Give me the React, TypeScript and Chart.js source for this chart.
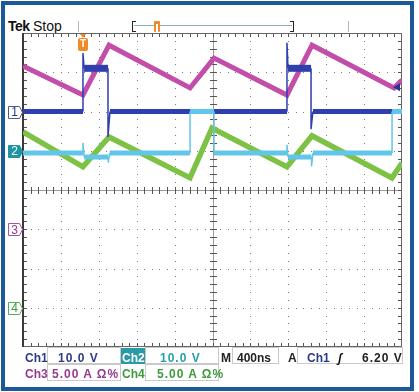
import React, { useEffect, useRef } from "react";
import { Chart, registerables } from "chart.js";

Chart.register(...registerables);

// ---- data (time in ns, vertical in graticule divisions) ----
const nsPerDiv = 400;
const timeSpanNs = 4000;

// Ch1 – dark blue switch-node trace
const ch1Time = [0, 633, 633, 645, 897, 897, 918, 2786, 2786, 2797, 3040, 3040, 3060, 4000];
const ch1Div = [2.0, 2.0, 3.49, 3.1, 3.1, 1.35, 2.0, 2.0, 3.75, 3.1, 3.1, 1.55, 2.0, 2.0];

// Ch2 – cyan trace
const ch2Time = [0, 633, 633, 645, 900, 900, 915, 1763, 1763, 2016, 2016, 2786, 2786, 2797, 3045, 3045, 3060, 3895, 3895, 4000];
const ch2Div = [0.94, 0.94, 1.2, 0.84, 0.84, 0.7, 0.94, 0.94, 2.0, 2.0, 0.94, 0.94, 1.15, 0.84, 0.84, 0.6, 0.94, 0.94, 2.0, 2.0];

// Ch3 – magenta current ramp
const ch3Time = [0, 633, 908, 1763, 2016, 2786, 3050, 3916, 4000];
const ch3Div = [3.16, 2.42, 3.69, 2.6, 3.36, 2.42, 3.69, 2.6, 2.8];

// Ch4 – green current ramp
const ch4Time = [0, 633, 908, 1763, 1995, 2786, 3050, 3894, 4000];
const ch4Div = [1.48, 0.59, 1.35, 0.31, 1.58, 0.59, 1.38, 0.31, 0.69];

const channelNames = ["1", "2", "3", "4"];
const channelOffsets = [2, 1, -1, -3];
const triggerTimeNs = 633;
const triggerLevelV = 6.2;
const ch1VoltsPerDiv = 10;

const readoutScale = ["10.0 V", "10.0 V", "5.00 A Ω%", "5.00 A Ω%"];
const timebase = "400ns";
const triggerText = "6.20 V";

// ---- styles ----
const traceColors = ["#2f3fae", "#62c6ea", "#c24ea9", "#7dc244"];
const textColors = ["#2b3a8a", "#239fad", "#933b8e", "#3c9a3c"];
const orange = "#ef8a2a";
const FONT = "'Liberation Sans', Arial, sans-serif";

const zip = (t: number[], v: number[]) => t.map((x, i) => ({ x, y: v[i] }));

const widthFn = (thin: number, normal: number, hiLevel: number | null, hiWidth: number) => (c: any) => {
  const a = c.p0.parsed, b = c.p1.parsed;
  if (Math.abs(a.x - b.x) < 30) return thin;
  if (hiLevel !== null && a.y > hiLevel && b.y > hiLevel) return hiWidth;
  return normal;
};

const graticulePlugin = {
  id: "graticule",
  beforeDatasetsDraw(chart: any) {
    const { ctx, chartArea: a, scales } = chart;
    const xs = scales.x, ys = scales.y;
    ctx.save();
    ctx.fillStyle = "#7c7c7c";
    for (let d = 1; d < 10; d++) {
      if (d === 5) continue;
      const px = Math.round(xs.getPixelForValue(d * nsPerDiv));
      for (let m = 1; m < 40; m++) {
        const py = Math.round(ys.getPixelForValue(-4 + m * 0.2));
        ctx.fillRect(px, py, 1, 1);
      }
    }
    for (let d = -3; d <= 3; d++) {
      if (d === 0) continue;
      const py = Math.round(ys.getPixelForValue(d));
      for (let m = 1; m < 50; m++) {
        const px = Math.round(xs.getPixelForValue(m * nsPerDiv / 5));
        ctx.fillRect(px, py, 1, 1);
      }
    }
    const cy = Math.round(ys.getPixelForValue(0));
    const cx = Math.round(xs.getPixelForValue(timeSpanNs / 2));
    ctx.fillStyle = "#9a9a9a";
    ctx.fillRect(a.left, cy, a.right - a.left, 1);
    ctx.fillRect(cx, a.top, 1, a.bottom - a.top);
    ctx.fillStyle = "#555";
    for (let m = 1; m < 50; m++) {
      const px = Math.round(xs.getPixelForValue(m * nsPerDiv / 5));
      ctx.fillRect(px, cy - 3, 1, 7);
      ctx.fillRect(px, a.top, 1, 4);
      ctx.fillRect(px, a.bottom - 4, 1, 4);
    }
    for (let m = 1; m < 40; m++) {
      const py = Math.round(ys.getPixelForValue(-4 + m * 0.2));
      ctx.fillRect(cx - 3, py, 7, 1);
      ctx.fillRect(a.left, py, 4, 1);
      ctx.fillRect(a.right - 4, py, 4, 1);
    }
    ctx.strokeStyle = "#666";
    ctx.lineWidth = 1;
    ctx.strokeRect(a.left + 0.5, a.top + 0.5, a.right - a.left - 1, a.bottom - a.top - 1);
    ctx.fillStyle = "#3a3a3a";
    ctx.fillRect(a.left - 1, a.top, 2, a.bottom - a.top);
    ctx.restore();
  },
};

const markerPlugin = {
  id: "markers",
  afterDraw(chart: any) {
    const { ctx, chartArea: a, scales } = chart;
    const xs = scales.x, ys = scales.y;
    ctx.save();
    const fills = ["#ffffff", "#1f95a3", "#ffffff", "#ffffff"];
    const strokes = ["#555a80", "#1f95a3", "#a5559f", "#58a858"];
    channelOffsets.forEach((off, i) => {
      const y = Math.round(ys.getPixelForValue(off)) + 0.5;
      ctx.beginPath();
      ctx.moveTo(8.5, y - 6);
      ctx.lineTo(19.5, y - 6);
      ctx.lineTo(a.left - 0.5, y);
      ctx.lineTo(19.5, y + 6);
      ctx.lineTo(8.5, y + 6);
      ctx.closePath();
      ctx.fillStyle = fills[i];
      ctx.fill();
      ctx.strokeStyle = strokes[i];
      ctx.lineWidth = 1;
      ctx.stroke();
    });
    const tx = Math.round(xs.getPixelForValue(triggerTimeNs));
    ctx.fillStyle = orange;
    ctx.beginPath();
    ctx.moveTo(tx - 3, a.top + 1);
    ctx.lineTo(tx + 3, a.top + 1);
    ctx.lineTo(tx, a.top + 5);
    ctx.closePath();
    ctx.fill();
    ctx.beginPath();
    ctx.roundRect(tx - 5, a.top + 5, 10, 13, 2);
    ctx.fill();
    const ty = ys.getPixelForValue(channelOffsets[0] + triggerLevelV / ch1VoltsPerDiv);
    ctx.fillStyle = "#2a3590";
    ctx.beginPath();
    ctx.moveTo(a.right - 9, ty);
    ctx.lineTo(a.right - 2, ty - 4);
    ctx.lineTo(a.right - 2, ty + 4);
    ctx.closePath();
    ctx.fill();
    ctx.restore();
  },
};

const abs = (s: React.CSSProperties): React.CSSProperties => ({ position: "absolute", whiteSpace: "nowrap", ...s });

export default function App() {
  const canvasRef = useRef<HTMLCanvasElement | null>(null);

  useEffect(() => {
    if (!canvasRef.current) return;
    const chart = new Chart(canvasRef.current, {
      type: "line",
      data: {
        datasets: [
          {
            label: "Ch2",
            data: zip(ch2Time, ch2Div),
            borderColor: traceColors[1],
            borderWidth: 5,
            pointRadius: 0,
            order: 0,
            segment: { borderWidth: widthFn(1.5, 5, null, 5) },
          },
          {
            label: "Ch1",
            data: zip(ch1Time, ch1Div),
            borderColor: traceColors[0],
            borderWidth: 5,
            pointRadius: 0,
            order: 1,
            segment: { borderWidth: widthFn(1.5, 5, 2.9, 7) },
          },
          {
            label: "Ch3",
            data: zip(ch3Time, ch3Div),
            borderColor: traceColors[2],
            borderWidth: 5,
            pointRadius: 0,
            order: 2,
          },
          {
            label: "Ch4",
            data: zip(ch4Time, ch4Div),
            borderColor: traceColors[3],
            borderWidth: 5.5,
            pointRadius: 0,
            order: 3,
          },
        ],
      },
      options: {
        responsive: false,
        animation: false,
        events: [],
        layout: { padding: { left: 23, right: 17, top: 33, bottom: 45 } },
        elements: { line: { tension: 0, borderJoinStyle: "miter" } },
        scales: {
          x: { type: "linear", min: 0, max: timeSpanNs, display: false },
          y: { type: "linear", min: -4, max: 4, display: false },
        },
        plugins: { legend: { display: false }, tooltip: { enabled: false } },
      },
      plugins: [graticulePlugin, markerPlugin],
    } as any);
    return () => chart.destroy();
  }, []);

  const tagTops = [105, 144, 223, 301];
  const tagText = ["#2b3a8a", "#ffffff", "#933b8e", "#3c9a3c"];
  const bold12: React.CSSProperties = { font: `bold 12px ${FONT}`, lineHeight: "12px" };
  const box = (left: number, top: number, width: number): React.CSSProperties =>
    abs({ left, top, width, height: 17, border: "1px solid #c9c9c9", boxSizing: "border-box" });

  return (
    <div style={{ position: "fixed", left: 0, top: 0, width: 419, height: 392, background: "#fff", overflow: "hidden" }}>
      <div style={abs({ left: 1, top: 1, width: 413, height: 390, border: "4px solid #1d5996", boxSizing: "border-box" })} />
      <div style={abs({ left: 8, top: 19, font: `bold 14px ${FONT}`, lineHeight: "14px", color: "#111", letterSpacing: "-0.5px" })}>Tek</div>
      <div style={abs({ left: 33, top: 19, font: `14px ${FONT}`, lineHeight: "14px", color: "#111" })}>Stop</div>
      <div style={abs({ left: 78, top: 21, width: 1, height: 11, background: "#b5b5b5" })} />
      <div style={abs({ left: 348, top: 21, width: 1, height: 11, background: "#b5b5b5" })} />
      <div style={abs({ left: 132, top: 21, width: 3, height: 9, borderLeft: "1px solid #222", borderTop: "1px solid #222", borderBottom: "1px solid #222" })} />
      <div style={abs({ left: 134, top: 25, width: 158, height: 1, background: "#86b4b6" })} />
      <div style={abs({ left: 290, top: 21, width: 3, height: 9, borderRight: "1px solid #222", borderTop: "1px solid #222", borderBottom: "1px solid #222" })} />
      <div style={abs({ left: 154, top: 21, width: 6, height: 11, background: orange, borderRadius: 1 })} />
      <div style={abs({ left: 156, top: 24, width: 2, height: 8, background: "#fff" })} />

      <canvas ref={canvasRef} width={419} height={392} style={{ position: "absolute", left: 0, top: 0, width: 419, height: 392 }} />

      {channelNames.map((n, i) => (
        <div key={n} style={abs({ left: 9, top: tagTops[i], width: 11, textAlign: "center", font: `12px ${FONT}`, lineHeight: "14px", color: tagText[i] })}>{n}</div>
      ))}
      <div style={abs({ left: 78, top: 38, width: 10, textAlign: "center", font: `bold 10px ${FONT}`, lineHeight: "12px", color: "#fff" })}>T</div>

      <div style={box(47, 347, 74)} />
      <div style={box(145, 347, 74)} />
      <div style={box(232, 347, 47)} />
      <div style={box(297, 347, 106)} />
      <div style={abs({ left: 121, top: 348, width: 24, height: 16, background: "#2a9aa6" })} />
      <div style={abs({ ...bold12, left: 25, top: 352, color: textColors[0] })}>Ch1</div>
      <div style={abs({ ...bold12, left: 58, top: 352, color: textColors[0], letterSpacing: "1px" })}>{readoutScale[0]}</div>
      <div style={abs({ ...bold12, left: 122, top: 352, color: "#fff" })}>Ch2</div>
      <div style={abs({ ...bold12, left: 160, top: 352, color: textColors[1], letterSpacing: "1px" })}>{readoutScale[1]}</div>
      <div style={abs({ ...bold12, left: 221, top: 352, color: "#222" })}>M</div>
      <div style={abs({ ...bold12, left: 237, top: 352, color: "#222" })}>{timebase}</div>
      <div style={abs({ ...bold12, left: 288, top: 352, color: "#222" })}>A</div>
      <div style={abs({ ...bold12, left: 307, top: 352, color: textColors[0] })}>Ch1</div>
      <div style={abs({ ...bold12, left: 338, top: 352, color: "#111", fontStyle: "italic" })}>ʃ</div>
      <div style={abs({ ...bold12, left: 362, top: 352, color: "#222", letterSpacing: "1px" })}>{triggerText}</div>

      <div style={box(47, 364, 74)} />
      <div style={box(145, 364, 74)} />
      <div style={abs({ ...bold12, left: 25, top: 368, color: textColors[2] })}>Ch3</div>
      <div style={abs({ ...bold12, left: 52, top: 368, color: textColors[2], letterSpacing: "1px" })}>{readoutScale[2]}</div>
      <div style={abs({ ...bold12, left: 122, top: 368, color: textColors[3] })}>Ch4</div>
      <div style={abs({ ...bold12, left: 157, top: 368, color: textColors[3], letterSpacing: "1px" })}>{readoutScale[3]}</div>
    </div>
  );
}
